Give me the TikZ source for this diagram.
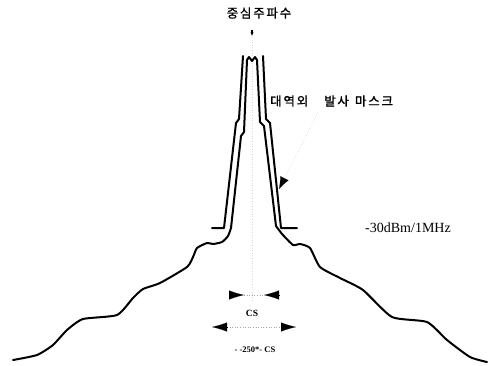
\documentclass[tikz,border=0pt]{standalone}
\usepackage{fontspec}
\setmainfont{Liberation Serif}
\newfontfamily\kr[LetterSpace=14,FakeBold=1.2]{Noto Sans CJK KR}
\usetikzlibrary{arrows.meta,calc}
\begin{document}
\begin{tikzpicture}[x=1pt,y=-1pt,
  curve/.style={line width=2pt,line join=round,line cap=round},
  guide/.style={gray!70,dotted,line width=0.6pt},
  head/.style={-{Latex[length=15pt,width=9pt]},line width=0.1pt},
  lbl/.style={inner sep=0pt}]
\useasboundingbox (0,0) rectangle (489,365);
% labels
\node[lbl,font=\kr\fontsize{12.5}{14}\selectfont] (cf) at (259,13) {중심주파수};
\node[lbl,font=\kr\fontsize{12.5}{14}\selectfont,anchor=west] (mask) at (270,101) {대역외\hspace{16pt}발사\hspace{6pt}마스크};
\node[lbl,font=\fontsize{14}{16}\selectfont] (lvl) at (408,228) {-30dBm/1MHz};
\node[lbl,font=\bfseries\fontsize{9.5}{11}\selectfont] (cs) at (252,313) {CS};
\node[lbl,font=\bfseries\fontsize{8.5}{10}\selectfont] (cs2) at (255,350) {- -250*- CS};
% centre marker
\coordinate (c0) at (252,30);
\coordinate (c1) at (252,37);
\coordinate (c2) at (252,300);
\draw[-{Latex[length=5pt,width=3pt]},line width=1.2pt] (c0) -- (c1);
\draw[guide,gray!30] (c1) -- (c2);
% mask
\draw[curve] (212,228) -- (224,228) -- (236,123) -- (239,119) -- (243,56);
\draw[curve] (263,56) -- (266,119) -- (270,123) -- (281,228) -- (297,228);
% spectrum
\draw[curve] plot[smooth,tension=0.35] coordinates {(13,360) (37,355) (53,345) (67,330) (83,319) (117,315) (133,298) (143,289) (160,283) (187,267) (193,257) (197,248) (207,243) (213,244) (222,242) (228,236) (231,228)}
  -- (241,136) -- (244,132) -- (247,60) -- (249,57) -- (252,61) -- (255,57) -- (257,60)
  -- (260,122) -- (264,126) -- (276,226)
  -- plot[smooth,tension=0.35] coordinates {(282,234) (293,245) (300,244) (310,248) (320,267) (340,278) (363,290) (392,317) (427,322) (447,340) (470,357) (487,362)};
% mask pointer
\coordinate (mp0) at (318,112);
\coordinate (mp1) at (279,189);
\draw[guide,gray!40] (mp0) -- (mp1);
\draw[-{Latex[length=12pt,width=9pt]},line width=0.1pt] ($(mp1)!12pt!(mp0)$) -- (mp1);
% CS arrows
\coordinate (a1) at (229,295);
\coordinate (a2) at (244,295);
\coordinate (a3) at (264,295);
\coordinate (a4) at (279,295);
\draw[guide] (a2) -- (a3);
\draw[head] (a1) -- (a2);
\draw[head] (a4) -- (a3);
\coordinate (b1) at (227,327);
\coordinate (b2) at (212,327);
\coordinate (b3) at (281,327);
\coordinate (b4) at (296,327);
\draw[guide] (b1) -- (b3);
\draw[head] (b1) -- (b2);
\draw[head] (b3) -- (b4);
\end{tikzpicture}
\end{document}
